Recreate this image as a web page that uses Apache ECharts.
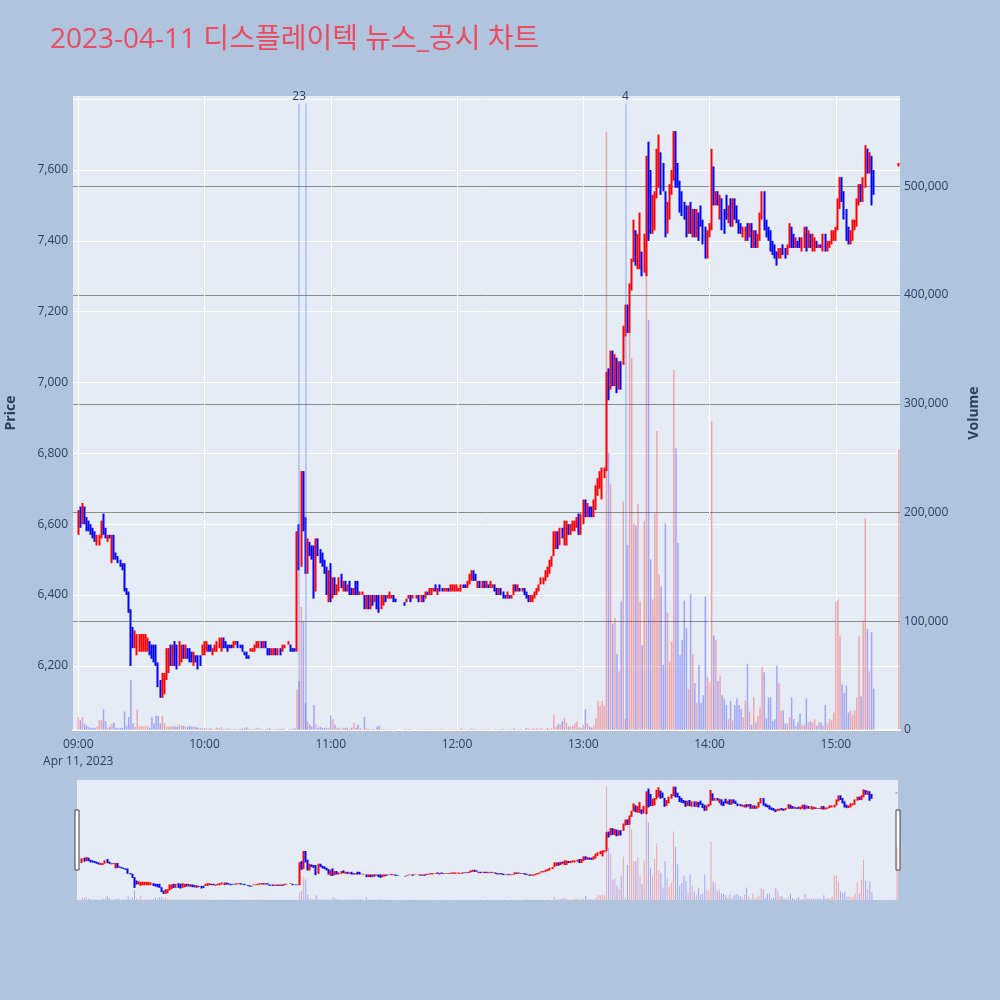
<!DOCTYPE html>
<html><head><meta charset="utf-8">
<script src="https://cdn.jsdelivr.net/npm/echarts@6/dist/echarts.min.js"></script>
<style>html,body{margin:0;padding:0;background:#B0C4DE;}#c{width:1000px;height:1000px;}</style>
</head><body><div id="c"></div>
<script>
const chartTitle = '2023-04-11 디스플레이텍 뉴스_공시 차트';
const dateLabel = 'Apr 11, 2023';
const hourTicks = ['09:00','10:00','11:00','12:00','13:00','14:00','15:00'];
const priceTicks = [6200,6400,6600,6800,7000,7200,7400,7600];
const priceRange = [6019, 7809];
const volumeRange = [0, 583000];
const newsEvents = [
  {time:'10:45', label:'23'},
  {time:'10:48', label:''},
  {time:'13:20', label:'4'}
];
const newsTop = 576000;

// [open, close, low, high] per minute
const ohlc09 = [
[6570,6630,6570,6640],[6630,6600,6590,6650],[6600,6650,6600,6660],[6650,6610,6600,6650],[6610,6590,6580,6620],
[6600,6580,6580,6610],[6590,6580,6570,6600],[6580,6560,6560,6590],[6570,6560,6550,6580],[6550,6570,6540,6570],
[6550,6560,6540,6570],[6570,6600,6560,6610],[6610,6580,6570,6630],[6580,6570,6560,6590],[6560,6570,6550,6570],
[6570,6560,6560,6570],[6520,6570,6490,6570],[6570,6510,6500,6570],[6520,6510,6500,6520],[6510,6500,6490,6510],
[6500,6490,6480,6500],[6490,6480,6470,6490],[6480,6420,6410,6490],[6420,6410,6400,6420],[6410,6360,6350,6410],
[6360,6280,6200,6360],[6300,6260,6250,6310],[6260,6290,6250,6300],[6240,6280,6230,6290],[6250,6290,6240,6290],
[6240,6280,6240,6290],[6250,6280,6240,6290],[6240,6270,6240,6290],[6250,6280,6240,6280],[6270,6240,6230,6270],
[6250,6230,6220,6260],[6260,6220,6210,6260],[6240,6210,6200,6260],[6210,6150,6140,6210],[6150,6130,6110,6160],
[6120,6180,6110,6180],[6140,6170,6120,6180],[6170,6240,6160,6250],[6190,6240,6180,6250],[6250,6210,6200,6260],
[6210,6250,6200,6260],[6270,6220,6200,6270],[6250,6200,6190,6260],[6210,6260,6200,6270],[6220,6260,6210,6260],
[6260,6230,6220,6260],[6230,6260,6220,6260],[6250,6230,6220,6250],[6240,6220,6210,6250],[6230,6220,6210,6240],
[6210,6230,6200,6240],[6230,6220,6210,6230],[6230,6200,6190,6230],[6220,6210,6200,6230],[6230,6250,6230,6260]
];
const ohlc10 = [
[6240,6260,6230,6270],[6250,6260,6240,6270],[6260,6250,6240,6260],[6250,6240,6240,6260],[6240,6250,6230,6250],
[6240,6250,6240,6260],[6250,6270,6240,6270],[6260,6280,6250,6280],[6250,6280,6240,6280],[6280,6250,6250,6280],
[6270,6260,6250,6270],[6260,6250,6240,6260],[6260,6250,6250,6260],[6260,6250,6250,6260],[6250,6270,6250,6270],
[6260,6270,6260,6270],[6270,6260,6250,6270],[6260,6250,6250,6260],[6260,6240,6240,6260],[6240,6230,6230,6240],
[6240,6220,6220,6240],[6230,6220,6220,6230],[6240,6250,6240,6250],[6240,6250,6240,6250],[6250,6260,6240,6260],
[6250,6270,6250,6270],[6260,6270,6250,6270],[6270,6260,6250,6270],[6260,6270,6250,6270],[6270,6250,6250,6270],
[6250,6240,6230,6250],[6240,6230,6230,6250],[6230,6250,6230,6250],[6240,6250,6230,6250],[6250,6240,6230,6250],
[6240,6250,6230,6250],[6250,6240,6230,6250],[6240,6250,6240,6260],[6250,6260,6250,6260],'-',
[6260,6270,6260,6270],[6260,6250,6240,6260],[6250,6240,6240,6250],[6250,6240,6240,6250],[6250,6570,6240,6580],
[6580,6480,6470,6600],[6490,6750,6480,6750],[6750,6600,6580,6750],[6620,6470,6460,6620],[6470,6550,6460,6560],
[6550,6520,6510,6550],[6530,6510,6500,6540],[6530,6410,6390,6540],[6420,6550,6410,6560],[6560,6530,6510,6560],
[6530,6500,6490,6530],[6510,6490,6480,6520],[6490,6470,6460,6500],[6470,6410,6400,6480],[6410,6460,6380,6470]
];
const ohlc11 = [
[6460,6400,6380,6490],[6400,6440,6390,6450],[6440,6410,6400,6450],[6410,6430,6400,6430],[6420,6450,6410,6450],
[6460,6420,6420,6460],[6420,6440,6410,6440],[6440,6410,6410,6440],[6410,6430,6410,6430],[6430,6400,6400,6440],
[6420,6410,6400,6420],[6410,6420,6400,6420],[6440,6400,6400,6440],[6430,6410,6400,6440],[6400,6410,6400,6410],
[6400,6410,6400,6410],[6400,6360,6360,6400],[6360,6400,6360,6400],[6400,6370,6360,6400],[6370,6400,6360,6400],
[6400,6380,6370,6400],[6390,6400,6380,6400],[6400,6370,6360,6400],[6390,6360,6350,6400],[6370,6390,6360,6400],
[6380,6400,6370,6400],[6400,6390,6380,6400],[6390,6400,6390,6400],[6390,6400,6390,6410],[6390,6400,6390,6400],
[6400,6380,6380,6400],[6390,6380,6380,6390],'-','-','-',
[6380,6370,6370,6380],[6380,6390,6380,6390],[6390,6400,6390,6400],[6400,6390,6380,6400],[6390,6400,6390,6400],
'-',[6390,6400,6390,6400],[6400,6380,6380,6400],[6380,6400,6380,6400],[6400,6390,6380,6400],
[6390,6410,6390,6410],[6410,6400,6400,6410],[6400,6410,6400,6420],[6410,6420,6400,6420],[6410,6420,6410,6420],
[6420,6410,6410,6430],[6410,6420,6400,6420],[6430,6410,6410,6430],[6420,6410,6410,6420],[6410,6420,6410,6420],
[6410,6420,6410,6420],[6420,6410,6410,6420],[6410,6420,6410,6430],[6410,6430,6410,6430],[6420,6430,6410,6430]
];
const ohlc12 = [
[6410,6420,6410,6430],[6410,6420,6410,6420],[6410,6430,6410,6430],[6430,6420,6420,6430],[6430,6420,6420,6430],
[6420,6440,6420,6440],[6440,6460,6430,6460],[6450,6470,6440,6470],[6470,6450,6440,6470],[6460,6440,6440,6460],
[6430,6440,6420,6440],[6440,6430,6420,6440],[6430,6440,6420,6440],[6440,6420,6420,6440],[6420,6430,6420,6440],
[6430,6420,6420,6430],[6420,6430,6420,6440],[6420,6430,6420,6430],[6430,6420,6410,6430],[6420,6410,6400,6420],
[6410,6420,6400,6420],[6420,6400,6400,6420],[6410,6390,6390,6410],[6400,6390,6390,6400],[6390,6400,6390,6410],
[6400,6390,6390,6400],[6390,6400,6390,6400],[6400,6430,6400,6430],[6430,6420,6410,6430],[6410,6420,6410,6430],
[6420,6410,6410,6420],[6410,6420,6410,6420],[6420,6400,6400,6420],[6410,6390,6390,6410],[6400,6390,6380,6400],
[6380,6400,6380,6400],[6380,6400,6380,6400],[6400,6410,6390,6410],[6410,6420,6400,6420],[6420,6430,6410,6430],
[6430,6440,6430,6450],[6440,6450,6430,6450],[6450,6460,6440,6470],[6460,6480,6450,6480],[6470,6490,6460,6500],
[6490,6500,6480,6510],[6510,6570,6510,6580],[6550,6560,6530,6580],[6570,6540,6530,6580],[6550,6580,6540,6590],
[6580,6560,6560,6590],[6560,6600,6540,6610],[6560,6590,6540,6610],[6590,6580,6570,6600],[6570,6590,6570,6600],
[6590,6600,6580,6610],[6590,6610,6580,6610],[6600,6620,6590,6620],[6620,6580,6570,6630],[6580,6620,6570,6630]
];
const ohlc13 = [
[6610,6660,6600,6670],[6660,6630,6620,6670],[6640,6650,6620,6660],[6650,6630,6620,6650],[6640,6620,6620,6650],
[6620,6660,6620,6670],[6650,6700,6640,6710],[6690,6720,6680,6730],[6710,6740,6700,6750],[6720,6750,6670,6760],
[6740,6760,6730,6760],[6760,7020,6750,7030],[7030,6960,6950,7040],[6990,7060,6980,7090],[7070,7000,6990,7090],
[7000,7050,6990,7080],[7060,6990,6970,7070],[6990,7050,6980,7060],[7050,6990,6980,7060],[7060,7150,7050,7160],
[7140,7210,7130,7220],[7190,7150,7140,7220],[7150,7270,7140,7280],[7270,7350,7260,7350],[7350,7450,7340,7460],
[7420,7340,7330,7430],[7340,7400,7320,7420],[7350,7470,7320,7480],[7360,7310,7300,7370],[7320,7410,7310,7420],
[7300,7620,7300,7640],[7600,7420,7400,7680],[7580,7430,7420,7600],[7430,7500,7420,7530],[7450,7530,7430,7540],
[7530,7640,7520,7660],[7550,7690,7550,7700],[7640,7540,7530,7650],[7600,7550,7540,7620],[7530,7430,7410,7540],
[7430,7500,7420,7510],[7470,7540,7460,7560],[7540,7590,7530,7600],[7580,7700,7570,7710],[7700,7570,7550,7710],
[7600,7560,7550,7620],[7560,7500,7480,7570],[7520,7490,7470,7540],[7490,7470,7460,7510],[7490,7420,7410,7500],
[7430,7490,7420,7500],[7500,7430,7420,7510],[7420,7480,7410,7490],[7480,7420,7410,7490],[7420,7480,7410,7490],
[7470,7420,7400,7480],[7480,7450,7440,7500],[7440,7400,7390,7460],[7420,7360,7350,7440],[7360,7420,7350,7430]
];
const ohlc14 = [
[7420,7440,7410,7450],[7430,7650,7430,7660],[7600,7510,7500,7610],[7510,7530,7500,7540],[7530,7510,7500,7540],
[7470,7520,7460,7530],[7520,7440,7430,7520],[7480,7430,7420,7490],[7520,7470,7460,7530],[7460,7490,7450,7500],
[7500,7460,7440,7520],[7450,7510,7440,7520],[7510,7470,7460,7520],[7490,7450,7450,7500],[7450,7430,7420,7460],
[7440,7420,7420,7450],[7420,7430,7410,7440],[7410,7440,7400,7440],[7440,7420,7400,7450],[7420,7440,7410,7450],
[7440,7400,7380,7450],[7390,7420,7380,7430],[7420,7390,7380,7430],[7390,7410,7380,7420],[7410,7470,7400,7480],
[7470,7530,7460,7540],[7530,7450,7430,7540],[7450,7420,7410,7460],[7430,7410,7400,7440],[7420,7380,7370,7430],
[7390,7370,7360,7400],[7380,7350,7350,7390],[7360,7340,7330,7370],[7350,7370,7350,7380],[7360,7370,7350,7380],
[7380,7360,7360,7390],[7370,7360,7350,7380],[7360,7380,7360,7390],[7380,7440,7380,7450],[7440,7390,7380,7440],
[7410,7390,7380,7420],[7380,7400,7380,7410],[7400,7390,7380,7400],[7400,7380,7380,7410],[7380,7400,7370,7410],
[7390,7440,7380,7440],[7430,7380,7370,7440],[7380,7420,7380,7430],[7420,7390,7380,7420],[7390,7410,7370,7420],
[7380,7400,7370,7410],[7390,7380,7380,7400],[7380,7390,7380,7390],[7390,7380,7380,7390],[7380,7420,7370,7420],
[7420,7380,7370,7420],[7380,7390,7370,7400],[7380,7390,7380,7400],[7390,7420,7390,7430],[7410,7420,7400,7430]
];
const ohlc15 = [
[7410,7430,7400,7440],[7430,7510,7430,7520],[7500,7570,7490,7580],[7570,7520,7510,7580],[7530,7480,7460,7540],
[7480,7420,7400,7490],[7430,7400,7390,7440],[7390,7420,7390,7430],[7410,7440,7400,7460],[7440,7450,7430,7460],
[7450,7510,7440,7520],[7510,7560,7500,7560],[7550,7520,7510,7560],[7520,7560,7510,7580],[7560,7660,7550,7670],
[7660,7600,7590,7660],[7600,7640,7590,7650],[7630,7560,7500,7640],[7590,7550,7530,7600],
'-','-','-','-','-','-','-','-','-','-','-',
[7610,7620,7610,7620]
];

const vol09 = [12000,9000,12000,6000,4000,2500,2000,2000,2000,3000,9000,9000,19000,8000,2000,3000,6000,7000,2000,1500,
2000,2000,17000,4000,12000,46000,6000,3000,19000,3000,4000,3000,4000,3000,2000,12000,6000,13000,13000,6000,
13000,6000,3000,3000,3000,4000,3000,3000,5000,4000,4000,3000,3000,4000,3000,3000,3000,2000,1500,2000];
const vol10 = [2000,1500,1000,1500,1000,1000,2000,1500,2500,1000,1000,1500,800,800,1200,1000,800,1000,1500,1200,
2500,1000,800,1000,1200,2000,1500,1000,800,1000,1200,1500,800,1000,1000,1200,1000,1500,1000,'-',
800,1000,1200,1500,37000,45000,113000,100000,25000,8000,5000,3000,23000,5000,2000,3000,2000,2000,2000,2000];
const vol11 = [13500,10000,5000,2000,2000,1000,2000,2000,2000,1000,2000,7000,2000,5000,2000,1000,12000,2000,1000,1000,
1000,1000,3000,4000,1000,800,800,500,800,500,600,500,'-','-','-',1000,500,800,600,500,
'-',500,800,600,500,1000,500,800,600,500,500,600,500,800,500,600,500,500,600,500];
const vol12 = [600,500,1500,500,800,600,1000,1500,800,600,500,800,600,500,800,500,600,500,800,600,
500,1000,800,600,500,800,600,1500,500,800,600,500,800,2000,1000,1000,1500,1000,1500,1000,
1500,1000,1000,2000,1000,1500,14000,3000,5000,5000,8000,11000,7000,3000,3000,4000,6000,8000,2000,2000];
const vol13 = [5000,19000,6000,3000,2000,4000,11000,27000,22000,27000,22000,550000,255000,226000,98000,103000,70000,54000,118000,210000,
10000,170000,365000,342000,190000,188000,208000,118000,78000,192000,440000,377000,157000,120000,199000,275000,143000,132000,60000,190000,
108000,63000,81000,331000,259000,172000,69000,83000,119000,94000,38000,125000,70000,43000,25000,60000,25000,32000,123000,49000];
const vol14 = [44000,284000,87000,83000,45000,50000,32000,29000,23000,10000,27000,9000,23000,29000,23000,19000,12000,27000,61000,17000,
5000,30000,7000,13000,21000,58000,53000,11000,30000,30000,8000,10000,59000,43000,18000,18000,6000,6000,12000,30000,
10000,4000,7000,15000,4000,5000,29000,7000,8000,7000,10000,4000,7000,7000,4000,23000,6000,10000,9000,16000];
const vol15 = [118000,120000,87000,42000,34000,41000,16000,18000,14000,18000,30000,86000,31000,100000,195000,93000,54000,90000,38000,
'-','-','-','-','-','-','-','-','-','-','-',258000];

const preOpen = ['-','-']; // 08:58, 08:59 (no trades)
const candles = preOpen.concat(ohlc09, ohlc10, ohlc11, ohlc12, ohlc13, ohlc14, ohlc15);
const volumes = preOpen.concat(vol09, vol10, vol11, vol12, vol13, vol14, vol15);

const times = [];
for (let t = 8*60+58; t <= 15*60+30; t++) {
  times.push(String(Math.floor(t/60)).padStart(2,'0') + ':' + String(t%60).padStart(2,'0'));
}

const UP = '#FF0000', DOWN = '#0000FF';
const UP_V = 'rgba(255,0,0,0.3)', DOWN_V = 'rgba(0,0,255,0.3)';
const volData = volumes.map((v, i) => {
  const c = candles[i];
  if (v === '-' || c === '-') return '-';
  return {value: v, itemStyle: {color: c[1] >= c[0] ? UP_V : DOWN_V}};
});

const FONT = "'Open Sans', 'Noto Sans CJK KR', sans-serif";
const TXT = '#2a3f5f';
const candleStyle = {color: UP, color0: DOWN, borderColor: UP, borderColor0: DOWN, borderWidth: 2};
const isHour = (i, v) => hourTicks.indexOf(v) >= 0;

const chart = echarts.init(document.getElementById('c'));
chart.setOption({
  animation: false,
  backgroundColor: '#B0C4DE',
  textStyle: {fontFamily: FONT},
  title: {text: chartTitle, left: 45, top: 21, textStyle: {fontSize: 28, fontWeight: 'normal', color: '#EB4A5F', fontFamily: FONT}},
  grid: [
    {left: 73, top: 96, width: 827, height: 634, show: true, backgroundColor: '#E5ECF6', borderWidth: 0,
     containLabel: false, outerBoundsMode: 'none'},
    {left: 77, top: 780, width: 821, height: 120, show: true, backgroundColor: '#E5ECF6', borderWidth: 0,
     containLabel: false, outerBoundsMode: 'none'}
  ],
  xAxis: [
    {type: 'category', gridIndex: 0, data: times, boundaryGap: true,
     axisLine: {show: true, lineStyle: {color: '#ffffff', width: 2}},
     axisTick: {show: false, alignWithLabel: true},
     axisLabel: {interval: isHour, color: TXT, fontSize: 12, margin: 6, lineHeight: 17,
       formatter: v => v === hourTicks[0] ? v + '\n' + dateLabel : v},
     splitLine: {show: true, interval: isHour, alignWithLabel: true, lineStyle: {color: '#ffffff', width: 1}}},
    {type: 'category', gridIndex: 1, data: times, boundaryGap: true,
     axisLine: {show: false}, axisTick: {show: false}, axisLabel: {show: false}, splitLine: {show: false}}
  ],
  yAxis: [
    {type: 'value', gridIndex: 0, position: 'left', min: priceRange[0], max: priceRange[1], splitNumber: 9, scale: true,
     axisLine: {show: false}, axisTick: {show: false},
     axisLabel: {color: TXT, fontSize: 12, margin: 5,
       formatter: v => priceTicks.indexOf(v) >= 0 ? v.toLocaleString('en-US') : ''},
     splitLine: {show: true, showMinLine: false, showMaxLine: false, lineStyle: {color: '#ffffff', width: 1}},
     name: 'Price', nameLocation: 'middle', nameGap: 55,
     nameTextStyle: {color: TXT, fontSize: 14, fontWeight: 'bold'}},
    {type: 'value', gridIndex: 0, position: 'right', min: volumeRange[0], max: volumeRange[1], interval: 100000,
     axisLine: {show: false}, axisTick: {show: false},
     axisLabel: {color: TXT, fontSize: 12, margin: 4, showMaxLabel: false,
       formatter: v => v <= 500000 ? v.toLocaleString('en-US') : ''},
     splitLine: {show: true, showMinLine: false, showMaxLine: false, lineStyle: {color: '#8c8c8c', width: 1}},
     name: 'Volume', nameLocation: 'middle', nameGap: 67,
     nameTextStyle: {color: TXT, fontSize: 14, fontWeight: 'bold'}},
    {type: 'value', gridIndex: 1, min: priceRange[0], max: priceRange[1], show: false, splitLine: {show: false}},
    {type: 'value', gridIndex: 1, min: volumeRange[0], max: volumeRange[1], show: false, splitLine: {show: false}}
  ],
  series: [
    {type: 'bar', name: 'Volume', xAxisIndex: 0, yAxisIndex: 1, data: volData, barWidth: 1.5, silent: true,
     markLine: {silent: true, symbol: ['none', 'none'],
       lineStyle: {color: 'rgba(100,130,240,0.45)', width: 1.5, type: 'solid'},
       label: {show: true, position: 'end', distance: 1, color: TXT, fontSize: 12, formatter: '{b}'},
       data: newsEvents.map(e => [{coord: [e.time, 0], name: e.label}, {coord: [e.time, newsTop]}])}},
    {type: 'candlestick', name: 'Price', xAxisIndex: 0, yAxisIndex: 0, data: candles, barWidth: 1, itemStyle: candleStyle},
    {type: 'bar', xAxisIndex: 1, yAxisIndex: 3, data: volData, barWidth: 1, silent: true},
    {type: 'candlestick', xAxisIndex: 1, yAxisIndex: 2, data: candles, barWidth: 1, itemStyle: candleStyle}
  ],
  graphic: [
    {type: 'rect', shape: {x: 75, y: 810, width: 4, height: 60}, style: {fill: '#ffffff', stroke: '#444444', lineWidth: 1}},
    {type: 'rect', shape: {x: 896, y: 810, width: 4, height: 60}, style: {fill: '#ffffff', stroke: '#444444', lineWidth: 1}}
  ]
});
</script>
</body></html>
